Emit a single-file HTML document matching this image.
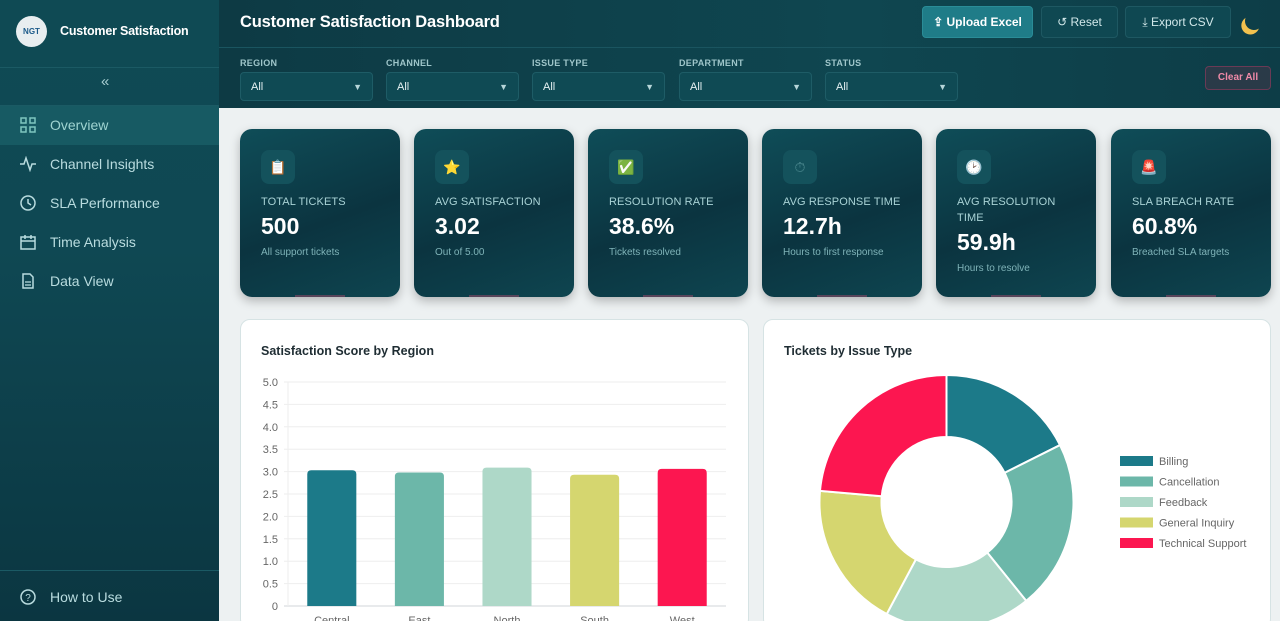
<!DOCTYPE html>
<html><head><meta charset="utf-8"><style>
*{box-sizing:border-box;margin:0;padding:0}
html{width:1280px;height:621px;overflow:hidden}
body{width:1280px;height:621px;overflow:hidden;font-family:"Liberation Sans",sans-serif;background:#edf1f2;position:relative}
.side{position:absolute;left:0;top:0;width:219px;height:621px;background:linear-gradient(180deg,#0f4a54 0%,#0f4853 40%,#0b3641 100%);color:#cfe6e8}
.logo{position:absolute;left:16px;top:16px;width:31px;height:31px;border-radius:50%;background:#e8eef0;font-size:8px;font-weight:bold;color:#1b5a8a;text-align:center;line-height:31px}
.brand{position:absolute;left:60px;top:24px;font-size:12.5px;font-weight:bold;color:#fff;letter-spacing:-.2px}
.hr{position:absolute;left:0;width:219px;height:1px;background:#1b5a64}
.nav{position:absolute;left:0;width:219px;height:39px;font-size:14px;color:#b9dcdf;padding-left:50px;line-height:39px}
.nav.act{background:#175a63;color:#9fd4d1}
.nav svg{position:absolute;left:20px;top:11px}
.top{position:absolute;left:219px;top:0;width:1061px;height:108px;background:linear-gradient(90deg,#0d3a44,#0f4650 60%,#0d3d47);}
.title{position:absolute;left:240px;top:13px;font-size:16.5px;font-weight:bold;color:#fff;letter-spacing:-.2px}
.btn{position:absolute;top:6px;height:32px;border-radius:4px;font-size:12px;color:#d2e8ea;border:1px solid #1e5862;line-height:30px;text-align:center}
.flab{position:absolute;top:58px;font-size:9px;font-weight:bold;color:#9fc6ca;letter-spacing:.3px}
.sel{position:absolute;top:72px;width:133px;height:29px;border:1px solid #1e5c66;border-radius:4px;background:#0f4a54;color:#e6f2f3;font-size:11px;padding-left:10px;line-height:29px}
.sel span{position:absolute;right:10px;font-size:9px;color:#b7d6d9}
.card{position:absolute;top:129px;width:160px;height:168px;border-radius:12px;background:linear-gradient(160deg,#0f4d58,#0b3440 55%,#0e4550);box-shadow:0 4px 10px rgba(0,0,0,.25);color:#fff}
.card .ic{position:absolute;left:21px;top:21px;width:34px;height:34px;border-radius:8px;background:#14525c;text-align:center;line-height:34px;font-size:14px}
.card .l{position:absolute;left:21px;top:65px;font-size:11px;color:#a9d3d6;letter-spacing:.1px;line-height:16px;width:130px}
.card .v{position:absolute;left:21px;font-size:23px;font-weight:bold}
.card .s{position:absolute;left:21px;font-size:10px;color:#7fb3b8}
.card .bar{position:absolute;left:55px;bottom:0;width:50px;height:2px;background:#a34a6a;opacity:.5}
.panel{position:absolute;top:319px;height:310px;background:#fff;border:1px solid #d6e3e4;border-radius:10px}
.ptitle{position:absolute;top:24px;left:20px;font-size:12.5px;font-weight:bold;color:#1f2d33}
</style></head><body>
<div class="side">
 <div class="logo">NGT</div>
 <div class="brand">Customer Satisfaction</div>
 <div class="hr" style="top:67px"></div>
 <div style="position:absolute;left:101px;top:73px;font-size:15px;color:#a8cdd1">«</div>
 <div class="hr" style="top:105px"></div>
 <div class="nav act" style="top:106px"><svg width="16" height="16"><g fill="none" stroke="#7fc6c0" stroke-width="1.5"><rect x="1" y="1" width="5" height="5"/><rect x="10" y="1" width="5" height="5"/><rect x="1" y="10" width="5" height="5"/><rect x="10" y="10" width="5" height="5"/></g></svg>Overview</div>
 <div class="nav" style="top:145px"><svg width="16" height="16"><path d="M0 8h4l2-6 4 12 2-6h4" fill="none" stroke="#b9dcdf" stroke-width="1.5"/></svg>Channel Insights</div>
 <div class="nav" style="top:184px"><svg width="16" height="16"><circle cx="8" cy="8" r="7" fill="none" stroke="#b9dcdf" stroke-width="1.5"/><path d="M8 4v4l3 2" fill="none" stroke="#b9dcdf" stroke-width="1.5"/></svg>SLA Performance</div>
 <div class="nav" style="top:223px"><svg width="16" height="16"><rect x="1" y="3" width="14" height="12" fill="none" stroke="#b9dcdf" stroke-width="1.5"/><path d="M1 7h14M5 1v4M11 1v4" stroke="#b9dcdf" stroke-width="1.5"/></svg>Time Analysis</div>
 <div class="nav" style="top:262px"><svg width="16" height="16"><path d="M3 1h7l3 3v11H3z" fill="none" stroke="#b9dcdf" stroke-width="1.5"/><path d="M5 9h6M5 12h6" stroke="#b9dcdf" stroke-width="1.3"/></svg>Data View</div>
 <div class="hr" style="top:570px"></div>
 <div class="nav" style="top:578px"><svg width="16" height="16"><circle cx="8" cy="8" r="7" fill="none" stroke="#b9dcdf" stroke-width="1.5"/><text x="8" y="12" font-size="10" text-anchor="middle" fill="#b9dcdf">?</text></svg>How to Use</div>
</div>
<div class="top"></div>
<div style="position:absolute;left:219px;top:47px;width:1061px;height:1px;background:#1a5560"></div>
<div class="title">Customer Satisfaction Dashboard</div>
<div class="btn" style="left:922px;width:111px;background:#1f7c88;border-color:#2a8c97;color:#fff;font-weight:bold">⇪ Upload Excel</div>
<div class="btn" style="left:1041px;width:77px;background:#0f4852">↺ Reset</div>
<div class="btn" style="left:1125px;width:106px;background:#0f4852">⤓ Export CSV</div>
<div style="position:absolute;left:1245px;top:12px;width:18px;height:18px;border-radius:50%;box-shadow:-5px 3px 0 0 #f2c14e;transform:rotate(-20deg)"></div>
<div class="flab" style="left:240px">REGION</div><div class="sel" style="left:240px">All<span>▼</span></div>
<div class="flab" style="left:386px">CHANNEL</div><div class="sel" style="left:386px">All<span>▼</span></div>
<div class="flab" style="left:532px">ISSUE TYPE</div><div class="sel" style="left:532px">All<span>▼</span></div>
<div class="flab" style="left:679px">DEPARTMENT</div><div class="sel" style="left:679px">All<span>▼</span></div>
<div class="flab" style="left:825px">STATUS</div><div class="sel" style="left:825px">All<span>▼</span></div>
<div style="position:absolute;left:1205px;top:66px;width:66px;height:24px;border:1px solid #6a3a55;border-radius:4px;background:#2a3a48;color:#f08aa8;font-size:10px;font-weight:bold;text-align:center;line-height:22px">Clear All</div>

<div class="card" style="left:240px"><div class="ic">📋</div><div class="l">TOTAL TICKETS</div><div class="v" style="top:84px">500</div><div class="s" style="top:118px">All support tickets</div><div class="bar"></div></div>
<div class="card" style="left:414px"><div class="ic">⭐</div><div class="l">AVG SATISFACTION</div><div class="v" style="top:84px">3.02</div><div class="s" style="top:118px">Out of 5.00</div><div class="bar"></div></div>
<div class="card" style="left:588px"><div class="ic">✅</div><div class="l">RESOLUTION RATE</div><div class="v" style="top:84px">38.6%</div><div class="s" style="top:118px">Tickets resolved</div><div class="bar"></div></div>
<div class="card" style="left:762px"><div class="ic" style="color:#4f8c92">⏱</div><div class="l">AVG RESPONSE TIME</div><div class="v" style="top:84px">12.7h</div><div class="s" style="top:118px">Hours to first response</div><div class="bar"></div></div>
<div class="card" style="left:936px"><div class="ic">🕑</div><div class="l">AVG RESOLUTION<br>TIME</div><div class="v" style="top:100px">59.9h</div><div class="s" style="top:134px">Hours to resolve</div><div class="bar"></div></div>
<div class="card" style="left:1111px"><div class="ic">🚨</div><div class="l">SLA BREACH RATE</div><div class="v" style="top:84px">60.8%</div><div class="s" style="top:118px">Breached SLA targets</div><div class="bar"></div></div>

<div class="panel" style="left:240px;width:509px"><div class="ptitle">Satisfaction Score by Region</div></div>
<div class="panel" style="left:763px;width:508px"><div class="ptitle">Tickets by Issue Type</div></div>
<svg id="charts" width="1280" height="621" style="position:absolute;left:0;top:0"></svg>
<script>
const regions=["Central","East","North","South","West"];
const scores=[3.03,2.98,3.09,2.93,3.06];
const yTicks=[0,0.5,1,1.5,2,2.5,3,3.5,4,4.5,5];
const barColors=["#1c7a89","#6cb7a9","#aed8c8","#d5d66f","#fc1650"];
const issueTypes=["Billing","Cancellation","Feedback","General Inquiry","Technical Support"];
const issueCounts=[88,108,93,93,118];
const sliceColors=["#1c7a89","#6cb7a9","#aed8c8","#d5d66f","#fc1650"];
const NS="http://www.w3.org/2000/svg";
const svg=document.getElementById('charts');
function mk(t,a,p){const e=document.createElementNS(NS,t);for(const k in a)e.setAttribute(k,a[k]);(p||svg).appendChild(e);return e;}
const x0=288,x1=726,y0=606,y1=382;
const yS=v=>y0-(v/5)*(y0-y1);
const band=(x1-x0)/regions.length;
const xS=i=>x0+band*i+band/2;
yTicks.forEach(t=>{
 const g=mk('line',{x1:x0-4,x2:x1,y1:yS(t),y2:yS(t),stroke:t===0?'#d0d6d8':'#eeeeee'});
 
 
 const tx=mk('text',{x:x0-10,y:yS(t)+4,'font-size':11,fill:'#666','text-anchor':'end','font-family':'Liberation Sans'});
 tx.textContent=t===0?'0':t.toFixed(1);
 
 
});
mk('line',{x1:x0,x2:x0,y1:y1,y2:y0,stroke:'#eeeeee'});
regions.forEach((r,i)=>{
 const w=band*0.56;
 const b=mk('path',{d:`M${xS(i)-w/2},${y0}V${yS(scores[i])+4}q0,-4 4,-4h${w-8}q4,0 4,4V${y0}Z`,fill:barColors[i]});
 
 
 const t=mk('text',{x:xS(i),y:y0+18,'font-size':11,fill:'#666','text-anchor':'middle','font-family':'Liberation Sans'});
 t.textContent=r;
 
 
});
const cx=946.5,cy=502,R=127,r0=65;
const total=issueCounts.reduce((a,b)=>a+b,0);
let a=0;
issueCounts.forEach((c,i)=>{
 const a2=a+c/total*2*Math.PI;
 const P=(ang,rad)=>[cx+rad*Math.sin(ang),cy-rad*Math.cos(ang)];
 const [ax,ay]=P(a,R),[bx,by]=P(a2,R),[cx2,cy2]=P(a2,r0),[dx,dy]=P(a,r0);
 const lg=(a2-a)>Math.PI?1:0;
 const s=mk('path',{d:`M${ax},${ay}A${R},${R} 0 ${lg} 1 ${bx},${by}L${cx2},${cy2}A${r0},${r0} 0 ${lg} 0 ${dx},${dy}Z`,fill:sliceColors[i],stroke:'#fff','stroke-width':2});
 
 
 a=a2;
 const ly=461+i*20.5;
 const lr=mk('rect',{x:1120,y:ly-5,width:33,height:10,fill:sliceColors[i]});
 
 
 const lt=mk('text',{x:1159,y:ly+4,'font-size':11,fill:'#666','font-family':'Liberation Sans'});
 lt.textContent=issueTypes[i];
 
 
});
</script>
</body></html>
